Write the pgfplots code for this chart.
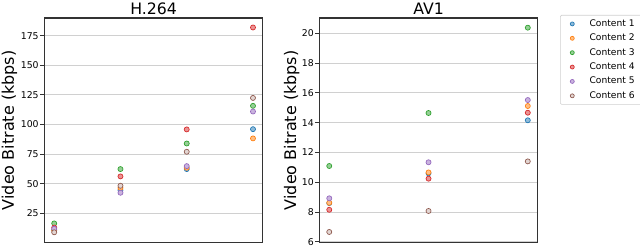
\documentclass[border=0pt]{standalone}
\usepackage{fontspec}
\setmainfont{DejaVu Sans}
\usepackage{pgfplots}
\pgfplotsset{compat=1.18}
\definecolor{c0}{HTML}{1F77B4}
\definecolor{c1}{HTML}{FF7F0E}
\definecolor{c2}{HTML}{2CA02C}
\definecolor{c3}{HTML}{D62728}
\definecolor{c4}{HTML}{9467BD}
\definecolor{c5}{HTML}{8C564B}
\definecolor{gridc}{HTML}{D0D0D0}
\definecolor{axc}{HTML}{333333}
\pgfplotsset{
  every axis title/.style={at={(0.5,1)}, anchor=base, yshift=2.3pt, font=\fontsize{11.8}{13}\selectfont},
  base/.style={
    scale only axis,
    width=164pt, height=168.4pt,
    axis line style={axc, line width=0.8pt},
    xtick=\empty,
    ymajorgrids,
    grid style={gridc, line width=0.75pt},
    tick style={axc, line width=0.7pt},
    major tick length=3pt,
    ytick pos=left,
    tick align=outside,
    /pgf/number format/assume math mode=true,
    yticklabel style={font=\fontsize{7}{8}\selectfont, inner sep=1pt},
    ylabel style={font=\fontsize{12}{14}\selectfont},
    ylabel={Video Bitrate (kbps)},
    clip=false,
  },
  s0/.style={only marks, mark=*, mark size=1.9pt, mark options={draw=c0, fill=c0!50, line width=0.5pt}},
  s1/.style={only marks, mark=*, mark size=1.9pt, mark options={draw=c1, fill=c1!50, line width=0.5pt}},
  s2/.style={only marks, mark=*, mark size=1.9pt, mark options={draw=c2, fill=c2!50, line width=0.5pt}},
  s3/.style={only marks, mark=*, mark size=1.9pt, mark options={draw=c3, fill=c3!50, line width=0.5pt}},
  s4/.style={only marks, mark=*, mark size=1.9pt, mark options={draw=c4, fill=c4!50, line width=0.5pt}},
  s5/.style={only marks, mark=*, mark size=1.9pt, mark options={draw=c5, fill=c5!25, line width=0.5pt}},
}
\begin{document}
\begin{tikzpicture}
\path[use as bounding box] (0,0) rectangle (480pt,186pt);
% H.264
\begin{axis}[base, at={(33.2pt,4.1pt)}, anchor=south west,
  title={H.264},
  xmin=-0.15, xmax=3.15, ymin=0.35, ymax=190,
  ytick={25,50,75,100,125,150,175},
  ylabel style={at={(axis description cs:-0.159,0.5)}, anchor=center, rotate=0},
]
\addplot[s0] coordinates {(0,11) (1,44.6) (2,62.4) (3,96.1)};
\addplot[s1] coordinates {(0,10.5) (1,46.5) (2,63.5) (3,88.3)};
\addplot[s2] coordinates {(0,16.5) (1,62.4) (2,84) (3,115.8)};
\addplot[s3] coordinates {(0,13) (1,56.2) (2,95.9) (3,182)};
\addplot[s4] coordinates {(0,12) (1,42.4) (2,64.9) (3,111)};
\addplot[s5] coordinates {(0,9) (1,48.3) (2,77) (3,122.5)};
\end{axis}
% AV1
\begin{axis}[base, at={(239.5pt,4.1pt)}, anchor=south west,
  width=163.8pt,
  title={AV1},
  xmin=-0.1, xmax=2.1, ymin=5.95, ymax=21.03,
  ytick={6,8,10,12,14,16,18,20},
  ylabel style={at={(axis description cs:-0.126,0.5)}, anchor=center, rotate=0},
  legend style={at={(rel axis cs:1.102,1.0134)}, anchor=north west,
    font=\fontsize{6.85}{8}\selectfont, draw=gridc, rounded corners=1pt,
    row sep=0.2pt, inner xsep=3pt, inner ysep=1.2pt,
    legend cell align=left},
  legend image code/.code={%
    \path[draw=none, fill=none] (0pt,-1pt) rectangle (17pt,1pt);
    \draw[mark size=1.5pt,#1] plot coordinates {(6pt,0pt)};},
]
\addplot[s0] coordinates {(0,8.6) (1,10.6) (2,14.16)};
\addplot[s1] coordinates {(0,8.62) (1,10.66) (2,15.12)};
\addplot[s2] coordinates {(0,11.09) (1,14.65) (2,20.38)};
\addplot[s3] coordinates {(0,8.15) (1,10.24) (2,14.67)};
\addplot[s4] coordinates {(0,8.92) (1,11.34) (2,15.52)};
\addplot[s5] coordinates {(0,6.66) (1,8.07) (2,11.4)};
\legend{Content 1,Content 2,Content 3,Content 4,Content 5,Content 6}
\end{axis}
\end{tikzpicture}
\end{document}
